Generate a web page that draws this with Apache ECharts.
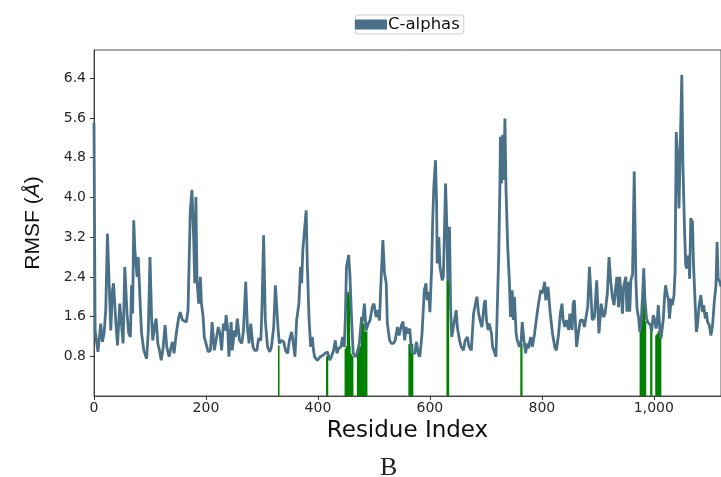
<!DOCTYPE html>
<html>
<head>
<meta charset="utf-8">
<script src="https://cdn.jsdelivr.net/npm/echarts@6/dist/echarts.min.js"></script>
<style>
html,body{margin:0;padding:0;background:#fff;}
#chart{width:721px;height:477px;}
</style>
</head>
<body>
<div id="chart"></div>
<script>
// ---- Data ----
const residues = [0,2,7,12,15,18,21,24,27,30,33,35,39,42,46,48,52,55,59,62,65,67,69,71,73,76,77,79,83,85,89,94,97,100,103,105,109,111,114,117,120,123,127,130,134,136,140,143,147,151,154,158,161,165,168,172,175,178,180,182,184,187,190,192,195,197,200,204,208,211,215,218,222,225,228,231,234,236,239,241,245,247,251,253,256,260,264,267,271,274,277,280,284,287,291,294,298,300,303,306,310,314,317,321,324,327,329,331,335,339,342,346,349,353,356,359,362,366,369,371,373,375,379,381,384,387,390,392,394,399,404,409,413,417,421,424,428,431,434,437,441,444,447,449,451,455,457,460,463,467,470,474,478,480,483,486,490,493,497,500,504,507,510,512,516,519,522,524,528,531,535,538,542,545,549,552,555,557,561,564,567,569,573,576,579,582,586,590,593,595,598,600,603,605,607,610,612,613,616,618,622,624,628,630,632,635,637,639,642,644,647,649,653,656,660,663,667,670,674,678,681,684,687,691,693,697,699,701,704,706,710,712,716,718,720,723,725,726,728,730,732,734,736,739,742,744,747,749,751,754,756,760,763,765,768,771,774,776,780,783,787,790,794,798,801,805,807,811,813,815,819,823,826,830,833,836,838,841,844,848,850,854,856,858,862,866,869,873,876,880,882,885,887,890,894,898,900,902,906,910,913,917,920,923,926,929,932,934,937,939,942,944,946,950,952,955,957,959,962,965,968,970,973,975,977,980,982,984,987,989,992,994,996,999,1001,1004,1006,1008,1011,1013,1017,1019,1021,1024,1026,1028,1031,1033,1036,1038,1040,1043,1045,1047,1050,1052,1055,1057,1059,1062,1064,1066,1069,1071,1074,1076,1078,1081,1084,1087,1089,1092,1094,1096,1099,1102,1105,1108,1111,1113,1115,1118,1120];
const rmsf = [5.5,1.32,0.89,1.46,1.09,1.26,1.73,3.27,3.31,1.32,2.13,2.27,1.47,1.02,1.86,1.86,1.06,2.6,1.66,1.26,1.19,2.23,1.66,3.54,2.94,2.9,2.4,2.8,1.73,1.26,0.92,0.75,1.3,2.8,1.53,1.12,1.46,1.56,1.06,0.92,0.72,0.92,1.43,0.99,0.79,0.79,1.09,0.86,1.26,1.56,1.69,1.53,1.49,1.49,1.73,3.74,4.15,3.2,2.27,4.01,2.33,1.86,2.4,1.86,1.59,1.19,1.06,0.89,0.92,1.49,0.92,0.89,1.39,1.26,0.92,1.46,1.32,1.63,1.32,0.79,1.49,0.92,1.32,1.19,1.56,1.12,1.06,1.32,2.3,1.39,1.06,1.46,0.99,0.92,0.92,1.16,1.12,1.73,3.24,1.53,0.99,0.89,0.99,1.39,2.23,2.2,1.32,1.06,1.12,1.09,0.92,0.86,1.12,1.29,1.06,0.79,1.53,1.86,2.6,2.27,2.94,2.94,3.74,2.67,1.59,0.99,1.19,0.93,0.79,0.72,0.79,0.82,0.86,0.89,0.72,0.79,0.92,1.12,0.86,0.96,0.99,1.19,0.99,1.59,2.6,2.84,2.47,1.59,0.86,0.79,0.86,1.06,1.59,1.52,1.86,1.32,1.46,1.52,1.79,1.86,1.59,1.73,1.52,2.13,3.14,2.47,2.27,1.46,1.12,1.06,1.06,1.12,1.39,1.22,1.42,1.5,1.12,1.39,1.26,1.36,0.92,0.86,0.86,1.09,0.86,0.79,1.26,2.13,2.27,1.93,2.1,1.69,2.53,3.54,4.21,4.75,3.88,2.67,3.2,2.6,2.33,2.4,4.28,3.54,2.33,3.41,1.79,1.19,1.39,1.53,1.73,1.39,1.12,0.99,0.92,1.12,1.19,0.99,0.92,1.66,1.66,2.0,1.66,1.46,1.39,1.86,1.93,1.53,1.33,1.46,1.26,0.99,0.86,0.79,1.59,2.87,4.21,5.22,4.28,5.26,4.35,5.59,4.15,3.0,2.3,1.59,2.13,1.53,2.0,1.26,1.12,0.99,1.12,1.49,1.12,0.86,1.06,0.96,1.19,0.99,1.26,1.53,1.86,2.13,2.07,2.3,1.93,2.2,1.93,1.66,1.26,0.99,0.92,1.26,1.66,1.86,1.53,1.39,1.53,1.33,1.66,1.33,1.86,1.93,0.99,1.33,1.53,1.53,1.39,1.66,1.8,2.6,2.2,1.53,1.59,2.33,1.79,1.26,1.86,1.59,1.66,2.07,2.8,2.3,2.0,1.83,2.2,2.4,1.79,2.4,2.0,1.66,2.2,2.4,1.7,2.3,1.7,2.33,2.45,4.52,2.33,1.76,1.56,1.29,1.43,2.03,2.57,1.96,1.56,1.49,1.49,1.43,1.29,1.63,1.56,1.36,1.49,1.83,1.29,1.16,1.56,1.96,2.23,2.03,1.96,1.56,1.96,1.83,2.03,2.5,5.32,4.72,3.78,4.92,6.47,4.65,3.3,2.63,2.57,2.83,2.36,3.58,3.51,2.63,1.83,1.29,1.43,1.83,2.03,1.69,1.83,1.56,1.69,1.49,1.43,1.22,1.43,1.9,2.23,3.1,2.36,2.3,2.2];

const siteResidues = [330,416,417,449,450,451,452,453,454,455,456,457,458,459,460,461,462,471,472,473,474,475,476,478,479,480,482,484,485,487,563,564,565,566,567,568,569,631,632,633,763,764,976,977,978,979,980,981,982,983,984,985,995,996,1004,1005,1006,1007,1008,1009,1010,1011,1012];
const siteHeights = [1.02,0.8,0.8,0.95,0.95,1.0,1.0,2.05,2.1,2.1,2.0,1.0,0.85,0.85,0.8,0.8,0.8,0.85,0.85,0.9,0.95,1.0,1.0,1.45,1.5,1.5,1.45,1.3,1.3,1.3,1.05,1.05,1.05,1.05,1.05,1.05,1.05,2.33,2.33,2.33,1.06,1.06,1.4,1.4,1.4,1.45,1.95,1.95,1.95,1.9,1.5,1.5,1.3,1.3,1.22,1.22,1.25,1.25,1.3,1.25,1.22,1.22,1.22];

const xTicksInterval = 200;
const yTicksInterval = 0.8;
const seriesName = 'C-alphas';

const lineData = residues.map((r, i) => [r, rmsf[i]]);
const siteData = siteResidues.map((r, i) => [r, siteHeights[i]]);

const chart = echarts.init(document.getElementById('chart'), null, {renderer: 'canvas'});
const tickFont = {fontFamily: 'DejaVu Sans', fontSize: 14, color: '#262626'};

chart.setOption({
  animation: false,
  backgroundColor: '#ffffff',
  legend: {
    data: [{name: seriesName, icon: 'rect'}],
    left: 355, top: 15,
    itemWidth: 32, itemHeight: 10,
    padding: [1, 4, 1, 0],
    borderColor: '#cccccc', borderWidth: 1, borderRadius: 3,
    textStyle: {fontFamily: 'DejaVu Sans', fontSize: 16.5, color: '#111', padding: [0, 0, 0, -4]}
  },
  grid: {left: 94, top: 50, right: -1, bottom: 81, show: true, borderColor: '#555', borderWidth: 1, containLabel: false},
  xAxis: {
    type: 'value', min: 0, max: 1120, interval: xTicksInterval,
    name: 'Residue Index', nameLocation: 'middle', nameGap: 23,
    nameTextStyle: {fontFamily: 'DejaVu Sans', fontSize: 23, color: '#111'},
    axisLine: {show: true, lineStyle: {color: '#444', width: 1}},
    axisTick: {show: true, length: 4, lineStyle: {color: '#333'}},
    axisLabel: Object.assign({margin: 5, showMaxLabel: false}, tickFont),
    splitLine: {show: false}
  },
  yAxis: {
    type: 'value', min: 0, max: 6.97, interval: yTicksInterval,
    name: '{a|RMSF (}{b|Å}{a|)}', nameLocation: 'middle', nameGap: 50,
    nameTextStyle: {
      rich: {
        a: {fontFamily: 'Liberation Sans', fontSize: 21, color: '#111'},
        b: {fontFamily: 'Liberation Sans', fontSize: 21, fontStyle: 'italic', color: '#111'}
      }
    },
    axisLine: {show: true, lineStyle: {color: '#444', width: 1}},
    axisTick: {show: true, length: 4, lineStyle: {color: '#333'}},
    axisLabel: Object.assign({
      margin: 8, showMinLabel: false, showMaxLabel: false,
      formatter: v => (v === 0 || Math.abs(v / 0.8 - Math.round(v / 0.8)) > 1e-6) ? '' : v.toFixed(1)
    }, tickFont),
    splitLine: {show: false}
  },
  graphic: [{
    type: 'text', left: 380, top: 455, silent: true,
    style: {text: 'B', fontFamily: 'Liberation Serif', fontSize: 26, fill: '#222'}
  }],
  series: [
    {
      name: 'sites', type: 'bar', data: siteData, barWidth: 1.6,
      itemStyle: {color: '#008000'}, z: 1, legendHoverLink: false
    },
    {
      name: seriesName, type: 'line', data: lineData, showSymbol: false, symbol: 'none',
      lineStyle: {color: '#4b7189', width: 2.8}, itemStyle: {color: '#4b7189'}, z: 3
    }
  ]
});
</script>
</body>
</html>
